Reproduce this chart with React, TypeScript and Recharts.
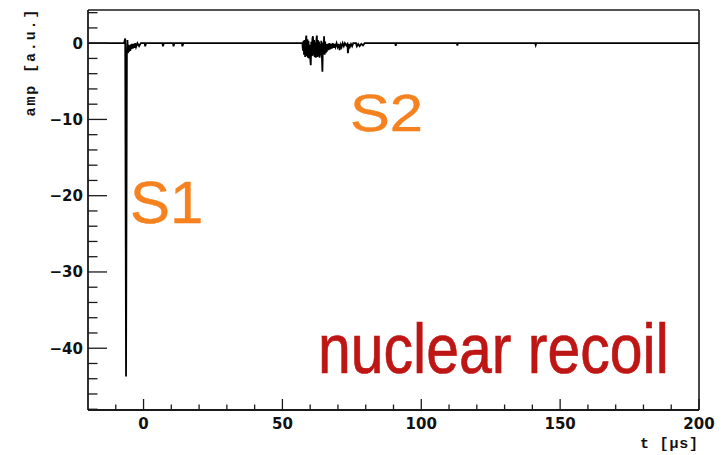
import { LineChart, Line, XAxis, YAxis } from "recharts";

// waveform samples as [t (µs), amp (a.u.)]
const preTrigger: [number, number][] = [
  [-20, 0], [-7.0, 0.05],
];
const s1Pulse: [number, number][] = [
  [-6.6, 0.6], [-6.3, -43.7], [-6.0, -1.5], [-5.8, 0.4], [-5.6, -1.3], [-5.4, -0.2],
  [-5.2, -1.1], [-5.0, -0.3], [-4.8, -1.0], [-4.6, -0.2], [-4.4, -0.8], [-4.2, -0.1],
  [-3.9, -0.7], [-3.6, -0.1], [-3.3, -0.6], [-3.0, 0], [-2.7, -0.5], [-2.2, 0],
  [-1.6, -0.4], [-1.0, 0], [0.4, 0], [0.6, -0.4], [0.9, 0], [6.8, 0], [7.0, -0.4],
  [7.3, 0], [10.6, 0], [10.8, -0.4], [11.1, 0], [13.8, 0], [14.0, -0.4], [14.3, 0],
];
const s2Pulse: [number, number][] = [
  [57.2, 0], [57.4, -1.0], [57.6, 0.3], [57.8, -1.5], [58.0, 0.4], [58.2, -1.8],
  [58.4, 0.2], [58.6, 1.0], [58.8, -1.7], [59.0, 0.5], [59.2, -1.9], [59.4, 0.3],
  [59.6, -2.0], [59.8, -0.2], [60.0, -1.8], [60.2, -2.9], [60.4, 0.2], [60.6, -1.7],
  [60.8, 0.6], [61.0, 0.9], [61.2, -1.6], [61.4, 0.4], [61.6, -1.8], [61.8, 0.1],
  [62.0, -1.9], [62.2, 0.3], [62.4, 1.0], [62.6, -1.8], [62.8, 0.4], [63.0, -1.7],
  [63.2, 0.2], [63.4, -1.9], [63.6, -0.1], [63.8, -1.6], [64.0, 0.3], [64.2, -1.5],
  [64.4, -3.75], [64.6, 0.1], [64.8, -1.4], [65.0, 0.9], [65.2, -1.5], [65.4, 0.2],
  [65.6, -1.3], [65.8, -0.1], [66.0, -1.1], [66.3, -0.1], [66.6, -0.9], [66.9, 0],
  [67.2, -0.8], [67.5, -0.1], [67.8, -0.7], [68.1, 0], [68.5, -0.6], [68.8, -0.1],
  [69.1, -0.5], [69.5, 0], [69.9, -0.5], [70.3, -0.1], [70.6, -0.9], [71.0, -0.2],
  [71.3, -0.5], [71.7, 0], [72.1, -0.4], [72.5, 0], [73.0, -0.3], [73.4, -0.1],
  [73.6, -1.3], [73.9, -0.1], [74.3, -0.5], [74.7, -0.1], [75.1, -0.4], [75.5, 0],
  [76.5, 0], [76.8, -0.4], [77.3, -0.1], [77.8, -0.4], [78.4, -0.1], [79.0, -0.3],
  [79.6, 0],
];
const tail: [number, number][] = [
  [90.6, 0], [90.8, -0.35], [91.0, 0], [112.8, 0], [113.0, -0.3], [113.2, 0],
  [141.0, 0], [141.2, -0.25], [141.4, 0], [200, 0],
];

const xTicks = [-10, 0, 10, 20, 30, 40, 50, 60, 70, 80, 90, 100, 110, 120, 130, 140, 150, 160, 170, 180, 190, 200];
const yTicks = [-48, -46, -44, -42, -40, -38, -36, -34, -32, -30, -28, -26, -24, -22, -20, -18, -16, -14, -12, -10, -8, -6, -4, -2, 0, 2, 4];

const data = [...preTrigger, ...s1Pulse, ...s2Pulse, ...tail].map(([t, amp]) => ({ t, amp }));

const AXIS = "#1a1a1a";
const TICK_FONT = "'DejaVu Sans', Verdana, sans-serif";
const LABEL_FONT = "'Liberation Sans', Arial, Helvetica, sans-serif";
const MONO_FONT = "'Liberation Mono', 'DejaVu Sans Mono', monospace";

const fmt = (v: number) => (v < 0 ? `\u2212${Math.abs(v)}` : `${v}`);

function XTick(props: any) {
  const { x, y, payload } = props;
  const v = payload.value as number;
  const major = v % 50 === 0;
  return (
    <g>
      <line x1={x} x2={x} y1={y} y2={y - (major ? 11 : 5.5)} stroke={AXIS} strokeWidth={1.3} />
      {major && (
        <text x={x} y={y + 19} textAnchor="middle" fontFamily={TICK_FONT} fontWeight="bold" fontSize={15} fill="#111">
          {fmt(v)}
        </text>
      )}
    </g>
  );
}

function YTick(props: any) {
  const { x, y, payload } = props;
  const v = payload.value as number;
  const major = v % 10 === 0;
  return (
    <g>
      <line x1={x} x2={x + (major ? 19 : 9.5)} y1={y} y2={y} stroke={AXIS} strokeWidth={1.3} />
      {major && (
        <text x={x - 5} y={y + 5.5} textAnchor="end" fontFamily={TICK_FONT} fontWeight="bold" fontSize={15} fill="#111">
          {fmt(v)}
        </text>
      )}
    </g>
  );
}

export default function App() {
  return (
    <div style={{ position: "absolute", left: 0, top: 0, width: 723, height: 455, background: "#fff" }}>
      <LineChart width={723} height={455} data={data} margin={{ top: 9, right: 23, bottom: 44, left: 87 }}>
        <XAxis
          dataKey="t"
          type="number"
          domain={[-20, 200]}
          ticks={xTicks}
          interval={0}
          height={1}
          tickSize={0}
          tickMargin={0}
          tickLine={false}
          tick={<XTick />}
          axisLine={{ stroke: AXIS, strokeWidth: 1.8 }}
        />
        <XAxis xAxisId="top" orientation="top" type="number" domain={[-20, 200]} height={1} tick={false} tickLine={false} axisLine={{ stroke: AXIS, strokeWidth: 1.6 }} />
        <YAxis
          type="number"
          domain={[-48.1, 4.35]}
          ticks={yTicks}
          interval={0}
          width={1}
          tickSize={0}
          tickMargin={0}
          tickLine={false}
          tick={<YTick />}
          allowDataOverflow
          axisLine={{ stroke: AXIS, strokeWidth: 1.8 }}
        />
        <YAxis yAxisId="right" orientation="right" type="number" domain={[-48.1, 4.35]} width={1} tick={false} tickLine={false} axisLine={{ stroke: AXIS, strokeWidth: 1.6 }} />
        <Line dataKey="amp" type="linear" dot={false} stroke="#000" strokeWidth={1.8} isAnimationActive={false} />
      </LineChart>
      <svg width={723} height={455} style={{ position: "absolute", left: 0, top: 0, pointerEvents: "none" }}>
        <text
          transform="translate(35,63) rotate(-90)"
          textAnchor="middle"
          fontFamily={MONO_FONT}
          fontWeight="bold"
          fontSize={15}
          fill="#111"
          textLength={107}
          lengthAdjust="spacing"
        >
          amp [a.u.]
        </text>
        <text x={698} y={448} textAnchor="end" fontFamily={MONO_FONT} fontWeight="bold" fontSize={15} fill="#111" textLength={58} lengthAdjust="spacing">
          t [µs]
        </text>
        <text x={130} y={223} fontFamily={LABEL_FONT} fontSize={60} fill="#F5821F" stroke="#F5821F" strokeWidth={0.4}>S1</text>
        <text transform="translate(350,131) scale(1.15,1)" fontFamily={LABEL_FONT} fontSize={52} fill="#F5821F" stroke="#F5821F" strokeWidth={0.4}>S2</text>
        <text transform="translate(318,373) scale(1,1.18)" fontFamily={LABEL_FONT} fontSize={59} fill="#BE1614" stroke="#BE1614" strokeWidth={0.6}>nuclear recoil</text>
      </svg>
    </div>
  );
}
